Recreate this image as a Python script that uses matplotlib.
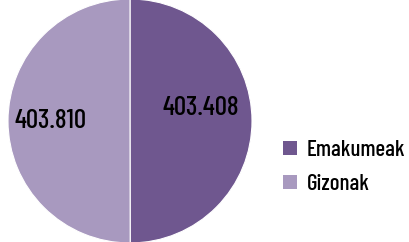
import matplotlib.pyplot as plt
from matplotlib.patches import Patch

labels = ["Emakumeak", "Gizonak"]
values = [403408, 403810]
colors = ["#6f578f", "#a899bf"]

plt.rcParams["font.family"] = ["Barlow Condensed", "DejaVu Sans"]
plt.rcParams["font.weight"] = 500

fig = plt.figure(figsize=(4.09, 2.42), dpi=100)
W, H = 409, 242
r = 122
cx, cy = 130, 121
ax = fig.add_axes([(cx - r) / W, (cy - r) / H, 2 * r / W, 2 * r / H])
wedges, _ = ax.pie(values, colors=colors, startangle=90, counterclock=False,
                   radius=1, wedgeprops=dict(edgecolor="white", linewidth=0.8))
ax.set_xlim(-1, 1)
ax.set_ylim(-1, 1)
ax.set_aspect("equal")
ax.axis("off")

label_pos = [(0.58, 0.11), (-0.65, 0.0)]
for v, (x, y) in zip(values, label_pos):
    ax.text(x, y, f"{v:,}".replace(",", "."), ha="center", va="center",
            fontsize=19.5, color="black")

handles = [Patch(facecolor=c, edgecolor="none") for c in colors]
fig.legend(handles, labels, loc="center left", bbox_to_anchor=(283 / W, 1 - 167 / H),
           frameon=False, fontsize=16.5, handlelength=0.6, handleheight=0.6,
           handletextpad=0.45, labelspacing=0.6, borderpad=0, borderaxespad=0)

fig.savefig("out.png", dpi=100)
